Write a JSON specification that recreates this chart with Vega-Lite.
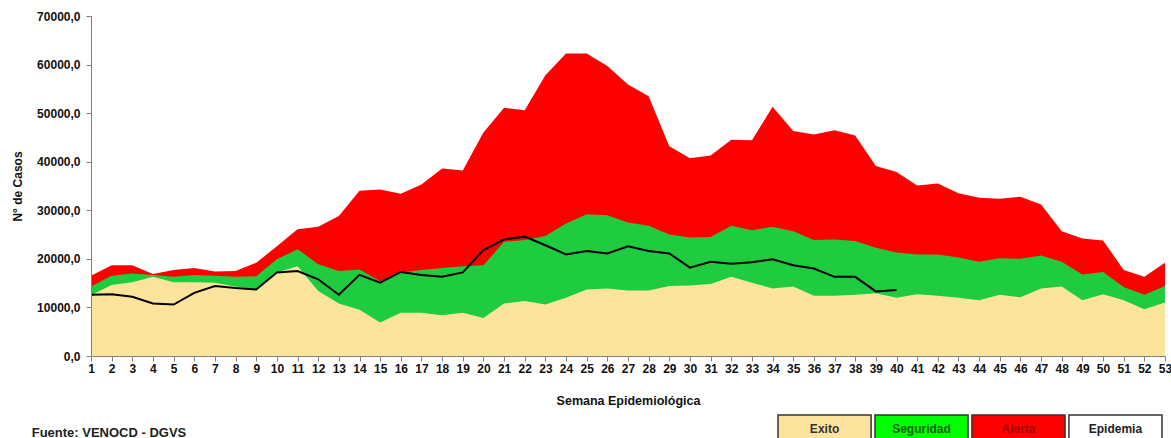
{
  "$schema": "https://vega.github.io/schema/vega-lite/v6.json",
  "padding": {"left": 11, "top": 10, "right": 0, "bottom": 0},
  "background": "white",
  "config": {"view": {"stroke": null}, "font": "Liberation Sans", "concat": {"spacing": 7}},
  "datasets": {
    "canal": [
      {"semana": 1, "exito": 12500, "seguridad": 14300, "alerta": 16500, "casos": 12600},
      {"semana": 2, "exito": 14600, "seguridad": 16500, "alerta": 18700, "casos": 12700},
      {"semana": 3, "exito": 15200, "seguridad": 17000, "alerta": 18700, "casos": 12200},
      {"semana": 4, "exito": 16300, "seguridad": 16700, "alerta": 16900, "casos": 10800},
      {"semana": 5, "exito": 15200, "seguridad": 16300, "alerta": 17700, "casos": 10600},
      {"semana": 6, "exito": 15200, "seguridad": 16700, "alerta": 18100, "casos": 13000},
      {"semana": 7, "exito": 15100, "seguridad": 16500, "alerta": 17400, "casos": 14400},
      {"semana": 8, "exito": 14300, "seguridad": 16300, "alerta": 17500, "casos": 14000},
      {"semana": 9, "exito": 13700, "seguridad": 16400, "alerta": 19200, "casos": 13700},
      {"semana": 10, "exito": 17200, "seguridad": 19900, "alerta": 22600, "casos": 17200},
      {"semana": 11, "exito": 18500, "seguridad": 22000, "alerta": 26100, "casos": 17500},
      {"semana": 12, "exito": 13400, "seguridad": 18900, "alerta": 26600, "casos": 15800},
      {"semana": 13, "exito": 10800, "seguridad": 17500, "alerta": 28800, "casos": 12600},
      {"semana": 14, "exito": 9500, "seguridad": 17800, "alerta": 34000, "casos": 16700},
      {"semana": 15, "exito": 6900, "seguridad": 15400, "alerta": 34300, "casos": 15100},
      {"semana": 16, "exito": 8900, "seguridad": 17200, "alerta": 33400, "casos": 17300},
      {"semana": 17, "exito": 8900, "seguridad": 17700, "alerta": 35300, "casos": 16700},
      {"semana": 18, "exito": 8400, "seguridad": 18100, "alerta": 38600, "casos": 16300},
      {"semana": 19, "exito": 8900, "seguridad": 18500, "alerta": 38200, "casos": 17200},
      {"semana": 20, "exito": 7800, "seguridad": 18700, "alerta": 46000, "casos": 21800},
      {"semana": 21, "exito": 10800, "seguridad": 23500, "alerta": 51100, "casos": 24000},
      {"semana": 22, "exito": 11300, "seguridad": 23900, "alerta": 50600, "casos": 24600},
      {"semana": 23, "exito": 10600, "seguridad": 24700, "alerta": 57800, "casos": 22800},
      {"semana": 24, "exito": 12000, "seguridad": 27300, "alerta": 62300, "casos": 20900},
      {"semana": 25, "exito": 13700, "seguridad": 29200, "alerta": 62300, "casos": 21600},
      {"semana": 26, "exito": 13900, "seguridad": 29000, "alerta": 59700, "casos": 21100},
      {"semana": 27, "exito": 13500, "seguridad": 27500, "alerta": 55900, "casos": 22600},
      {"semana": 28, "exito": 13500, "seguridad": 26800, "alerta": 53500, "casos": 21600},
      {"semana": 29, "exito": 14400, "seguridad": 25000, "alerta": 43200, "casos": 21100},
      {"semana": 30, "exito": 14500, "seguridad": 24400, "alerta": 40700, "casos": 18200},
      {"semana": 31, "exito": 14800, "seguridad": 24500, "alerta": 41300, "casos": 19400},
      {"semana": 32, "exito": 16300, "seguridad": 26800, "alerta": 44500, "casos": 19000},
      {"semana": 33, "exito": 15100, "seguridad": 25900, "alerta": 44400, "casos": 19300},
      {"semana": 34, "exito": 13900, "seguridad": 26600, "alerta": 51300, "casos": 19900},
      {"semana": 35, "exito": 14300, "seguridad": 25700, "alerta": 46300, "casos": 18700},
      {"semana": 36, "exito": 12400, "seguridad": 23900, "alerta": 45600, "casos": 18000},
      {"semana": 37, "exito": 12400, "seguridad": 24000, "alerta": 46500, "casos": 16300},
      {"semana": 38, "exito": 12600, "seguridad": 23700, "alerta": 45400, "casos": 16300},
      {"semana": 39, "exito": 12900, "seguridad": 22300, "alerta": 39100, "casos": 13300},
      {"semana": 40, "exito": 12000, "seguridad": 21300, "alerta": 37900, "casos": 13600},
      {"semana": 41, "exito": 12700, "seguridad": 20900, "alerta": 35100, "casos": null},
      {"semana": 42, "exito": 12400, "seguridad": 20900, "alerta": 35500, "casos": null},
      {"semana": 43, "exito": 12000, "seguridad": 20300, "alerta": 33500, "casos": null},
      {"semana": 44, "exito": 11500, "seguridad": 19400, "alerta": 32600, "casos": null},
      {"semana": 45, "exito": 12600, "seguridad": 20100, "alerta": 32400, "casos": null},
      {"semana": 46, "exito": 12100, "seguridad": 20000, "alerta": 32800, "casos": null},
      {"semana": 47, "exito": 13900, "seguridad": 20700, "alerta": 31200, "casos": null},
      {"semana": 48, "exito": 14300, "seguridad": 19400, "alerta": 25700, "casos": null},
      {"semana": 49, "exito": 11500, "seguridad": 16800, "alerta": 24200, "casos": null},
      {"semana": 50, "exito": 12700, "seguridad": 17300, "alerta": 23800, "casos": null},
      {"semana": 51, "exito": 11500, "seguridad": 14200, "alerta": 17700, "casos": null},
      {"semana": 52, "exito": 9600, "seguridad": 12600, "alerta": 16300, "casos": null},
      {"semana": 53, "exito": 11000, "seguridad": 14400, "alerta": 19200, "casos": null}
    ],
    "leyenda": [{"cat": "Exito"}, {"cat": "Seguridad"}, {"cat": "Alerta"}, {"cat": "Epidemia"}],
    "fuente": [{"t": "Fuente: VENOCD - DGVS"}]
  },
  "vconcat": [
    {
      "width": 1074,
      "height": 340,
      "data": {"name": "canal"},
      "encoding": {
        "x": {
          "field": "semana", "type": "quantitative",
          "scale": {"domain": [1, 53], "nice": false, "zero": false},
          "axis": {
            "title": "Semana Epidemiológica",
            "values": [1,2,3,4,5,6,7,8,9,10,11,12,13,14,15,16,17,18,19,20,21,22,23,24,25,26,27,28,29,30,31,32,33,34,35,36,37,38,39,40,41,42,43,44,45,46,47,48,49,50,51,52,53],
            "grid": false, "labelAngle": 0, "labelFlush": false, "labelOverlap": false,
            "labelFontSize": 12, "labelFontWeight": "bold", "labelColor": "#111",
            "tickSize": 5, "labelPadding": 2, "tickColor": "#808080", "domainColor": "#808080",
            "titleFontSize": 12.5, "titleFontWeight": "bold", "titleColor": "#111", "titlePadding": 20,
            "zindex": 1
          }
        }
      },
      "layer": [
        {
          "mark": {"type": "area", "color": "#FF0000"},
          "encoding": {
            "y": {
              "field": "alerta", "type": "quantitative", "title": "N° de Casos",
              "scale": {"domain": [0, 70000], "nice": false},
              "axis": {
                "values": [0, 10000, 20000, 30000, 40000, 50000, 60000, 70000],
                "labelExpr": "replace(format(datum.value, '.1f'), '.', ',')",
                "grid": false, "labelFontSize": 12, "labelFontWeight": "bold", "labelColor": "#111",
                "tickSize": 5, "labelPadding": 6, "tickColor": "#808080", "domainColor": "#808080",
                "titleFontSize": 12, "titleFontWeight": "bold", "titleColor": "#111", "titlePadding": 12,
                "zindex": 1
              }
            }
          }
        },
        {
          "mark": {"type": "area", "color": "#1FCB3F"},
          "encoding": {"y": {"field": "seguridad", "type": "quantitative", "title": "N° de Casos", "scale": {"domain": [0, 70000], "nice": false}}}
        },
        {
          "mark": {"type": "area", "color": "#FDE49C"},
          "encoding": {"y": {"field": "exito", "type": "quantitative", "title": "N° de Casos", "scale": {"domain": [0, 70000], "nice": false}}}
        },
        {
          "mark": {"type": "line", "color": "#000000", "strokeWidth": 2},
          "encoding": {"y": {"field": "casos", "type": "quantitative", "title": "N° de Casos", "scale": {"domain": [0, 70000], "nice": false}}}
        }
      ]
    },
    {
      "spacing": 590,
      "hconcat": [
        {
          "width": 36,
          "height": 36,
          "data": {"name": "fuente"},
          "mark": {"type": "text", "fontSize": 13, "fontWeight": "bold", "color": "#222"},
          "encoding": {"text": {"field": "t", "type": "nominal"}}
        },
        {
          "width": 384,
          "height": 28,
          "data": {"name": "leyenda"},
          "encoding": {
            "x": {
              "field": "cat", "type": "nominal",
              "scale": {"domain": ["Exito", "Seguridad", "Alerta", "Epidemia"], "paddingInner": 0.04, "paddingOuter": 0},
              "axis": null
            }
          },
          "layer": [
            {
              "mark": {"type": "rect", "stroke": "#333333", "strokeWidth": 1.5},
              "encoding": {
                "fill": {
                  "field": "cat", "type": "nominal",
                  "scale": {"domain": ["Exito", "Seguridad", "Alerta", "Epidemia"], "range": ["#FDE49C", "#00FF00", "#FF0000", "#FFFFFF"]},
                  "legend": null
                }
              }
            },
            {
              "mark": {"type": "text", "fontSize": 12, "fontWeight": "bold"},
              "encoding": {
                "text": {"field": "cat", "type": "nominal"},
                "color": {
                  "field": "cat", "type": "nominal",
                  "scale": {"domain": ["Exito", "Seguridad", "Alerta", "Epidemia"], "range": ["#333333", "#0B5E0B", "#A00000", "#222222"]},
                  "legend": null
                }
              }
            }
          ]
        }
      ]
    }
  ]
}
